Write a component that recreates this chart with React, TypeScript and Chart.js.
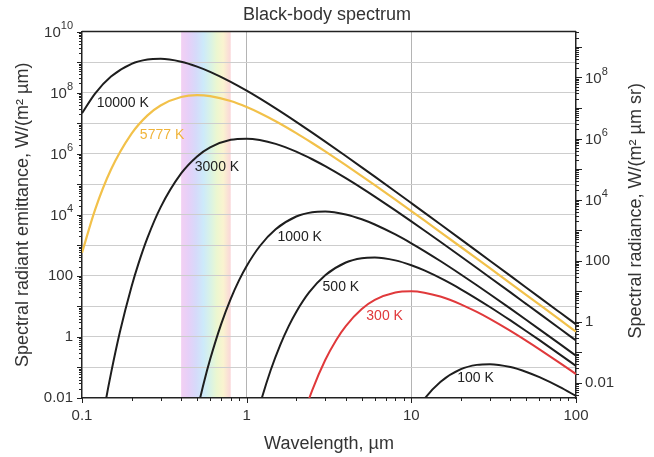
import React, { useEffect, useRef } from 'react';
import { Chart, registerables } from 'chart.js';

Chart.register(...registerables);

const FONT = '"Liberation Sans", Arial, Helvetica, sans-serif';

// ---- Data (wavelength in µm, spectral radiant emittance in W/(m² µm)) ----
const wl10000 = [0.1, 0.12, 0.15, 0.2, 0.25, 0.3, 0.4, 0.5, 0.6, 0.8, 1, 1.2, 1.5, 2, 2.5, 3, 4, 5, 6, 8, 10, 12, 15, 20, 25, 30, 40, 50, 60, 80, 100];
const em10000 = [2.111e7, 9.332e7, 3.364e8, 8.789e8, 1.217e9, 1.283e9, 1.03e9, 7.139e8, 4.811e8, 2.266e8, 1.164e8, 6.49e7, 3.061e7, 1.11e7, 4.925e6, 2.502e6, 8.441e5, 3.591e5, 1.776e5, 5.796e4, 2.418e4, 1.181e4, 4895, 1568, 646.8, 313.4, 99.77, 41.02, 19.83, 6.292, 2.582];

const wl5777 = [0.1, 0.12, 0.15, 0.2, 0.25, 0.3, 0.4, 0.5, 0.6, 0.8, 1, 1.2, 1.5, 2, 2.5, 3, 4, 5, 6, 8, 10, 12, 15, 20, 25, 30, 40, 50, 60, 80, 100];
const em5777 = [571, 1.457e4, 3.031e5, 4.567e6, 1.807e7, 3.82e7, 7.237e7, 8.279e7, 7.7e7, 5.313e7, 3.381e7, 2.158e7, 1.156e7, 4.727e6, 2.243e6, 1.19e6, 4.23e5, 1.855e5, 9.353e4, 3.127e4, 1.323e4, 6519, 2728, 881.7, 365.8, 177.9, 56.88, 23.44, 11.35, 3.611, 1.484];

const wl3000 = [0.12, 0.14, 0.15, 0.17, 0.2, 0.22, 0.25, 0.3, 0.4, 0.5, 0.6, 0.8, 1, 1.2, 1.5, 2, 2.5, 3, 4, 5, 6, 8, 10, 12, 15, 20, 25, 30, 40, 50, 60, 80, 100];
const em3000 = [6.602e-5, 9.222e-3, 0.06411, 1.474, 45.03, 247.4, 1786, 1.7555e4, 2.268e5, 8.175e5, 1.626e6, 2.852e6, 3.118e6, 2.815e6, 2.1e6, 1.169e6, 6.595e5, 3.902e5, 1.577e5, 7.439e4, 3.931e4, 1.391e4, 6080, 3061, 1308, 431.5, 181.2, 88.82, 28.69, 11.89, 5.783, 1.848, 0.7616];

const wl1000 = [0.5, 0.55, 0.6, 0.7, 0.8, 0.9, 1, 1.2, 1.5, 2, 2.5, 3, 4, 5, 6, 8, 10, 12, 15, 20, 25, 30, 40, 50, 60, 80, 100];
const em1000 = [3.81e-3, 0.03237, 0.1853, 2.636, 17.65, 72.25, 211.1, 933.2, 3364, 8789, 1.217e4, 1.283e4, 1.03e4, 7139, 4812, 2266, 1164, 649, 306.1, 111, 49.25, 25.02, 8.441, 3.591, 1.776, 0.5796, 0.2418];

const wl500 = [1, 1.1, 1.2, 1.4, 1.6, 1.8, 2, 2.4, 3, 4, 5, 6, 8, 10, 12, 16, 20, 24, 30, 40, 50, 60, 80, 100];
const em500 = [1.19e-4, 1.012e-3, 5.791e-3, 0.08238, 0.5516, 2.258, 6.597, 29.16, 105.1, 274.7, 380.3, 400.9, 321.9, 223.1, 150.4, 70.81, 36.38, 20.28, 9.566, 3.469, 1.539, 0.7819, 0.2638, 0.1122];

const wl300 = [2, 2.2, 2.5, 3, 3.5, 4, 5, 6, 8, 10, 12, 15, 20, 25, 30, 40, 50, 60, 80, 100];
const em300 = [4.503e-4, 2.474e-3, 0.01786, 0.1756, 0.7972, 2.268, 8.175, 16.26, 28.52, 31.18, 28.15, 21.0, 11.69, 6.595, 3.902, 1.577, 0.7439, 0.3931, 0.1391, 0.0608];

const wl100 = [8, 9, 10, 12, 15, 20, 25, 30, 40, 50, 60, 80, 100];
const em100 = [1.765e-4, 7.225e-4, 2.111e-3, 9.332e-3, 0.03364, 0.08789, 0.1217, 0.1283, 0.103, 0.07139, 0.04812, 0.02266, 0.01164];

const curveNames = ['10000 K', '5777 K', '3000 K', '1000 K', '500 K', '300 K', '100 K'];
const curveColors = ['#1e1e1e', '#f2c14a', '#1e1e1e', '#1e1e1e', '#1e1e1e', '#e0393b', '#1e1e1e'];
const labelColors = ['#222222', '#f0b43a', '#222222', '#222222', '#222222', '#e0393b', '#222222'];
// curve label anchors (wavelength µm, emittance) – left edge / vertical middle of text
const labelAtWl = [0.1227, 0.2246, 0.484, 1.54, 2.89, 5.33, 19.0];
const labelAtEm = [4.7e7, 4.2e6, 3.75e5, 1900, 43.6, 4.9, 0.0453];

// Visible band (µm)
const visibleBand = [0.4, 0.8];

// Axes
const xTickValues = [0.1, 1, 10, 100];
const xTickLabels = ['0.1', '1', '10', '100'];
const yDecades = [0.01, 0.1, 1, 10, 100, 1e3, 1e4, 1e5, 1e6, 1e7, 1e8, 1e9, 1e10];
// plain tick labels (drawn by Chart.js)
const yTickValues = [0.01, 1, 100];
const yTickLabels = ['0.01', '1', '100'];
// power-of-ten tick labels: base "10" with superscript exponent
const yPowerExps = [4, 6, 8, 10];
const y2Decades = [0.01, 0.1, 1, 10, 100, 1e3, 1e4, 1e5, 1e6, 1e7, 1e8, 1e9];
const y2TickValues = [0.01, 1, 100];
const y2TickLabels = ['0.01', '1', '100'];
const y2PowerExps = [4, 6, 8];

const series = [
  [wl10000, em10000],
  [wl5777, em5777],
  [wl3000, em3000],
  [wl1000, em1000],
  [wl500, em500],
  [wl300, em300],
  [wl100, em100],
];

const same = (a: number, b: number) => Math.abs(Math.log10(a) - Math.log10(b)) < 1e-6;

const bandPlugin = {
  id: 'band',
  beforeDraw(chart: any) {
    const { ctx, chartArea, scales } = chart;
    const x0 = scales.x.getPixelForValue(visibleBand[0]);
    const x1 = scales.x.getPixelForValue(visibleBand[1]);
    const g = ctx.createLinearGradient(x0, 0, x1, 0);
    g.addColorStop(0.0, 'rgb(243,208,243)');
    g.addColorStop(0.15, 'rgb(230,208,248)');
    g.addColorStop(0.3, 'rgb(214,218,250)');
    g.addColorStop(0.45, 'rgb(205,234,250)');
    g.addColorStop(0.6, 'rgb(218,243,228)');
    g.addColorStop(0.72, 'rgb(236,247,208)');
    g.addColorStop(0.85, 'rgb(250,243,208)');
    g.addColorStop(1.0, 'rgb(250,214,217)');
    ctx.save();
    ctx.fillStyle = g;
    ctx.fillRect(x0, chartArea.top, x1 - x0, chartArea.bottom - chartArea.top);
    ctx.restore();
  },
};

function drawPower(ctx: any, exp: number, x: number, y: number, align: 'left' | 'right') {
  ctx.save();
  ctx.fillStyle = '#333';
  ctx.textBaseline = 'middle';
  ctx.textAlign = 'left';
  const baseFont = `15px ${FONT}`;
  const supFont = `11px ${FONT}`;
  ctx.font = baseFont;
  const wb = ctx.measureText('10').width;
  ctx.font = supFont;
  const es = String(exp);
  const ws = ctx.measureText(es).width;
  const start = align === 'right' ? x - wb - ws : x;
  ctx.font = baseFont;
  ctx.fillText('10', start, y + 1);
  ctx.font = supFont;
  ctx.fillText(es, start + wb, y - 6);
  ctx.restore();
}

const decoPlugin = {
  id: 'deco',
  afterDatasetsDraw(chart: any) {
    const { ctx, scales } = chart;
    ctx.save();
    ctx.font = `14px ${FONT}`;
    ctx.textAlign = 'left';
    ctx.textBaseline = 'middle';
    curveNames.forEach((n, i) => {
      ctx.fillStyle = labelColors[i];
      ctx.fillText(n, scales.x.getPixelForValue(labelAtWl[i]), scales.y.getPixelForValue(labelAtEm[i]));
    });
    ctx.restore();
  },
  afterDraw(chart: any) {
    const { ctx, chartArea, scales } = chart;
    const { left, right, top, bottom } = chartArea;
    ctx.save();
    ctx.strokeStyle = '#222';
    ctx.lineWidth = 1;
    const line = (ax: number, ay: number, bx: number, by: number) => {
      ctx.beginPath();
      ctx.moveTo(ax, ay);
      ctx.lineTo(bx, by);
      ctx.stroke();
    };
    // top frame
    ctx.lineWidth = 1.5;
    line(left, top, right, top);
    ctx.lineWidth = 1;
    // left ticks
    for (let e = -2; e <= 10; e++) {
      for (let m = 1; m <= 9; m++) {
        const v = m * Math.pow(10, e);
        if (v > 1e10 * 1.0001) break;
        const py = Math.round(scales.y.getPixelForValue(v)) + 0.5;
        line(left - (m === 1 ? 5 : 3), py, left, py);
      }
    }
    // right ticks
    for (let e = -3; e <= 9; e++) {
      for (let m = 1; m <= 9; m++) {
        const v = m * Math.pow(10, e);
        if (v < scales.y2.min || v > scales.y2.max) continue;
        const py = Math.round(scales.y2.getPixelForValue(v)) + 0.5;
        line(right, py, right + (m === 1 ? 6 : 3), py);
      }
    }
    // bottom ticks
    for (let e = -1; e <= 2; e++) {
      for (let m = 1; m <= 9; m++) {
        const v = m * Math.pow(10, e);
        if (v > 100.0001) break;
        const px = Math.round(scales.x.getPixelForValue(v)) + 0.5;
        line(px, bottom, px, bottom + (m === 1 ? 5 : 3));
      }
    }
    // power-of-ten labels
    yPowerExps.forEach((e) => drawPower(ctx, e, left - 9, scales.y.getPixelForValue(Math.pow(10, e)), 'right'));
    y2PowerExps.forEach((e) => drawPower(ctx, e, right + 9, scales.y2.getPixelForValue(Math.pow(10, e)), 'left'));
    // right axis title
    ctx.fillStyle = '#333';
    ctx.font = `18px ${FONT}`;
    ctx.textAlign = 'center';
    ctx.textBaseline = 'middle';
    ctx.translate(636, (top + bottom) / 2 - 4);
    ctx.rotate(-Math.PI / 2);
    ctx.fillText('Spectral radiance, W/(m² µm sr)', 0, 0);
    ctx.restore();
  },
};

export default function App() {
  const ref = useRef<HTMLCanvasElement | null>(null);
  useEffect(() => {
    if (!ref.current) return;
    const chart = new Chart(ref.current, {
      type: 'line',
      data: {
        datasets: series.map(([wl, em], i) => ({
          label: curveNames[i],
          data: wl.map((x, j) => ({ x, y: em[j] })),
          borderColor: curveColors[i],
          borderWidth: i === 1 ? 2.2 : 2,
          pointRadius: 0,
          cubicInterpolationMode: 'monotone',
          fill: false,
          xAxisID: 'x',
          yAxisID: 'y',
        })),
      },
      options: {
        responsive: false,
        animation: false,
        events: [],
        layout: { padding: 0 },
        plugins: {
          legend: { display: false },
          tooltip: { enabled: false },
          title: {
            display: true,
            text: 'Black-body spectrum',
            color: '#333',
            font: { family: FONT, size: 18, weight: 'normal' },
            padding: { top: 4, bottom: 6 },
          },
        },
        scales: {
          x: {
            type: 'logarithmic',
            position: 'bottom',
            min: 0.1,
            max: 100,
            afterBuildTicks: (s: any) => {
              s.ticks = xTickValues.map((v) => ({ value: v }));
            },
            afterFit: (s: any) => {
              s.height = 59;
            },
            ticks: {
              autoSkip: false,
              maxRotation: 0,
              padding: 9,
              color: '#333',
              font: { family: FONT, size: 15 },
              callback: (v: any) => {
                const i = xTickValues.findIndex((t) => same(t, Number(v)));
                return i >= 0 ? xTickLabels[i] : '';
              },
            },
            grid: {
              drawTicks: false,
              lineWidth: 1,
              color: (c: any) => (c.tick && (same(c.tick.value, 1) || same(c.tick.value, 10)) ? '#b4b4b4' : 'rgba(0,0,0,0)'),
            },
            border: { display: true, color: '#222', width: 1.5 },
            title: {
              display: true,
              text: 'Wavelength, µm',
              color: '#333',
              font: { family: FONT, size: 18 },
              padding: { top: 0, bottom: 2 },
            },
          },
          y: {
            type: 'logarithmic',
            position: 'left',
            min: 0.01,
            max: 1e10,
            afterBuildTicks: (s: any) => {
              s.ticks = yDecades.map((v) => ({ value: v }));
            },
            afterFit: (s: any) => {
              s.width = 82;
            },
            ticks: {
              autoSkip: false,
              padding: 9,
              color: '#333',
              font: { family: FONT, size: 15 },
              callback: (v: any) => {
                const i = yTickValues.findIndex((t) => same(t, Number(v)));
                return i >= 0 ? yTickLabels[i] : '';
              },
            },
            grid: {
              drawTicks: false,
              lineWidth: 1,
              color: (c: any) => (c.tick && (same(c.tick.value, 0.01) || same(c.tick.value, 1e10)) ? 'rgba(0,0,0,0)' : '#cdcdcd'),
            },
            border: { display: true, color: '#222', width: 1.5 },
            title: {
              display: true,
              text: 'Spectral radiant emittance, W/(m² µm)',
              color: '#333',
              font: { family: FONT, size: 18 },
              padding: { top: 12, bottom: 0 },
            },
          },
          y2: {
            type: 'logarithmic',
            position: 'right',
            min: 0.01 / Math.PI,
            max: 1e10 / Math.PI,
            afterBuildTicks: (s: any) => {
              s.ticks = y2Decades.map((v) => ({ value: v }));
            },
            afterFit: (s: any) => {
              s.width = 78;
            },
            ticks: {
              autoSkip: false,
              padding: 9,
              color: '#333',
              font: { family: FONT, size: 15 },
              callback: (v: any) => {
                const i = y2TickValues.findIndex((t) => same(t, Number(v)));
                return i >= 0 ? y2TickLabels[i] : '';
              },
            },
            grid: { display: true, drawOnChartArea: false, drawTicks: false },
            border: { display: true, color: '#222', width: 1.5 },
          },
        },
      } as any,
      plugins: [bandPlugin, decoPlugin],
    });
    return () => chart.destroy();
  }, []);
  return (
    <div style={{ position: 'fixed', left: 0, top: 0, width: 654, height: 457, background: '#fff' }}>
      <canvas ref={ref} width={654} height={457} style={{ display: 'block' }} />
    </div>
  );
}
